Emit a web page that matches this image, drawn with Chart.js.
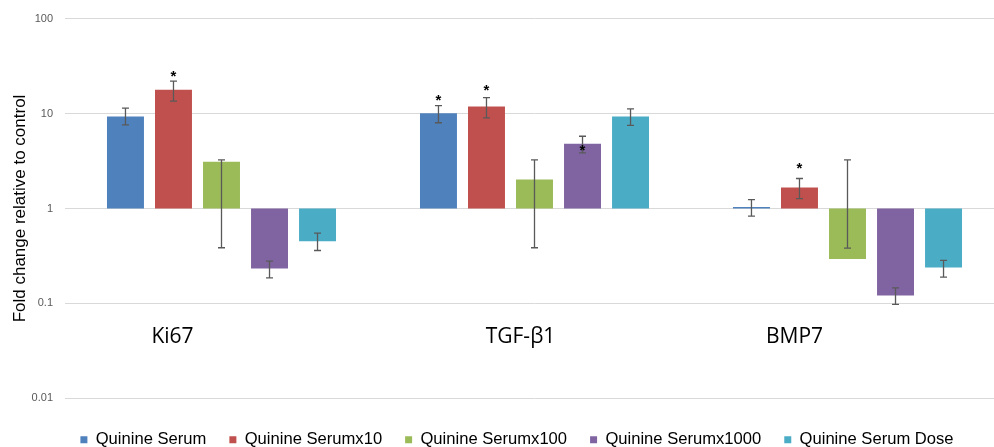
<!DOCTYPE html>
<html>
<head>
<meta charset="utf-8">
<script src="https://cdn.jsdelivr.net/npm/chart.js@4/dist/chart.umd.min.js"></script>
<style>
  html, body { margin: 0; padding: 0; background: #fff; overflow: hidden; }
  #wrap { width: 994px; height: 447px; overflow: hidden; }
</style>
</head>
<body>
<!-- canvas is a little larger than the view: the plot runs off the right edge like the original -->
<div id="wrap"><canvas id="foldChart" width="1004" height="458"></canvas></div>
<script>
// categories and tick labels
const categories = ['Ki67', 'TGF-\u03B21', 'BMP7'];
const tickValues = [0.01, 0.1, 1, 10, 100];

// mean fold change per series (bars start from 1)
const serum     = [9.3, 10.1, 1.04];
const serumX10  = [17.8, 11.9, 1.66];
const serumX100 = [3.1, 2.02, 0.293];
const serumX1000 = [0.234, 4.8, 0.121];
const serumDose = [0.453, 9.3, 0.239];

// error bar ends
const serumLo = [7.6, 8.0, 0.83],      serumHi = [11.4, 12.1, 1.24];
const x10Lo = [13.5, 9.0, 1.27],       x10Hi = [21.9, 14.7, 2.07];
const x100Lo = [0.386, 0.386, 0.382],  x100Hi = [3.25, 3.25, 3.25];
const x1000Lo = [0.186, 3.86, 0.098],  x1000Hi = [0.279, 5.77, 0.146];
const doseLo = [0.361, 7.5, 0.189],    doseHi = [0.55, 11.2, 0.284];

// significance asterisks (value where the * sits, null = none)
const serumStar = [null, 14.6, null];
const x10Star = [26.5, 18.6, 2.84];
const x100Star = [null, null, null];
const x1000Star = [null, 4.4, null];
const doseStar = [null, null, null];

function makeSet(label, values, lo, hi, stars, color) {
    return {
        label: label,
        data: values.map(v => [1, v]),
        errLo: lo,
        errHi: hi,
        stars: stars,
        backgroundColor: color,
        borderWidth: 0,
        categoryPercentage: 0.767,
        barPercentage: 0.77
    };
}

// error bars, asterisks and the big category labels
const extrasPlugin = {
    id: 'extras',
    afterLayout(chart) {
        // legend in the original sits a bit right of centre
        chart.legend.left += 15;
        chart.legend.right += 15;
    },
    afterDatasetsDraw(chart) {
        const ctx = chart.ctx;
        const y = chart.scales.y;
        const x = chart.scales.x;
        ctx.save();
        chart.data.datasets.forEach((ds, di) => {
            const meta = chart.getDatasetMeta(di);
            meta.data.forEach((bar, i) => {
                const top = y.getPixelForValue(ds.errHi[i]);
                const bot = y.getPixelForValue(ds.errLo[i]);
                ctx.strokeStyle = '#595959';
                ctx.lineWidth = 1.3;
                ctx.beginPath();
                ctx.moveTo(bar.x, top); ctx.lineTo(bar.x, bot);
                ctx.moveTo(bar.x - 3.5, top); ctx.lineTo(bar.x + 3.5, top);
                ctx.moveTo(bar.x - 3.5, bot); ctx.lineTo(bar.x + 3.5, bot);
                ctx.stroke();
                if (ds.stars[i] != null) {
                    ctx.fillStyle = '#000';
                    ctx.font = 'bold 15px "Liberation Sans", Arial, sans-serif';
                    ctx.textAlign = 'center';
                    ctx.textBaseline = 'middle';
                    ctx.fillText('*', bar.x, y.getPixelForValue(ds.stars[i]) + 3);
                }
            });
        });
        // category names sit inside the plot, a little left of each group
        const shift = [-49, -14, -53];
        ctx.fillStyle = '#000';
        ctx.font = '21px "Open Sans", "Noto Sans", sans-serif';
        ctx.textAlign = 'center';
        ctx.textBaseline = 'middle';
        categories.forEach((c, i) => {
            ctx.fillText(c, x.getPixelForValue(i) + shift[i], y.getPixelForValue(0.044));
        });
        ctx.restore();
    }
};

new Chart(document.getElementById('foldChart'), {
    type: 'bar',
    data: {
        labels: categories,
        datasets: [
            makeSet('Quinine Serum', serum, serumLo, serumHi, serumStar, '#4F81BD'),
            makeSet('Quinine Serumx10', serumX10, x10Lo, x10Hi, x10Star, '#C0504D'),
            makeSet('Quinine Serumx100', serumX100, x100Lo, x100Hi, x100Star, '#9BBB59'),
            makeSet('Quinine Serumx1000', serumX1000, x1000Lo, x1000Hi, x1000Star, '#8064A2'),
            makeSet('Quinine Serum Dose', serumDose, doseLo, doseHi, doseStar, '#4BACC6')
        ]
    },
    options: {
        responsive: false,
        animation: false,
        layout: { padding: { top: 12, right: 0, left: 0, bottom: 0 } },
        plugins: {
            tooltip: { enabled: false },
            legend: {
                position: 'bottom',
                labels: {
                    boxWidth: 7,
                    boxHeight: 7,
                    padding: 23,
                    color: '#000',
                    font: { family: '"Liberation Sans", Arial, sans-serif', size: 16.6 }
                }
            }
        },
        scales: {
            x: {
                display: true,
                grid: { display: false },
                border: { display: false },
                ticks: { display: false },
                afterFit: axis => { axis.height = 10; }
            },
            y: {
                type: 'logarithmic',
                min: 0.01,
                max: 100,
                afterBuildTicks: axis => {
                    axis.ticks = tickValues.map(v => ({ value: v }));
                },
                afterFit: axis => { axis.width = 65; },
                ticks: {
                    color: '#595959',
                    padding: 12,
                    font: { family: '"Liberation Sans", Arial, sans-serif', size: 11 },
                    callback: v => String(v)
                },
                grid: { color: '#d9d9d9', lineWidth: 1, drawTicks: false },
                border: { display: false },
                title: {
                    display: true,
                    text: 'Fold change relative to control',
                    color: '#000',
                    padding: { top: 10, bottom: 0 },
                    font: { family: '"Liberation Sans", Arial, sans-serif', size: 17 }
                }
            }
        }
    },
    plugins: [extrasPlugin]
});
</script>
</body>
</html>
